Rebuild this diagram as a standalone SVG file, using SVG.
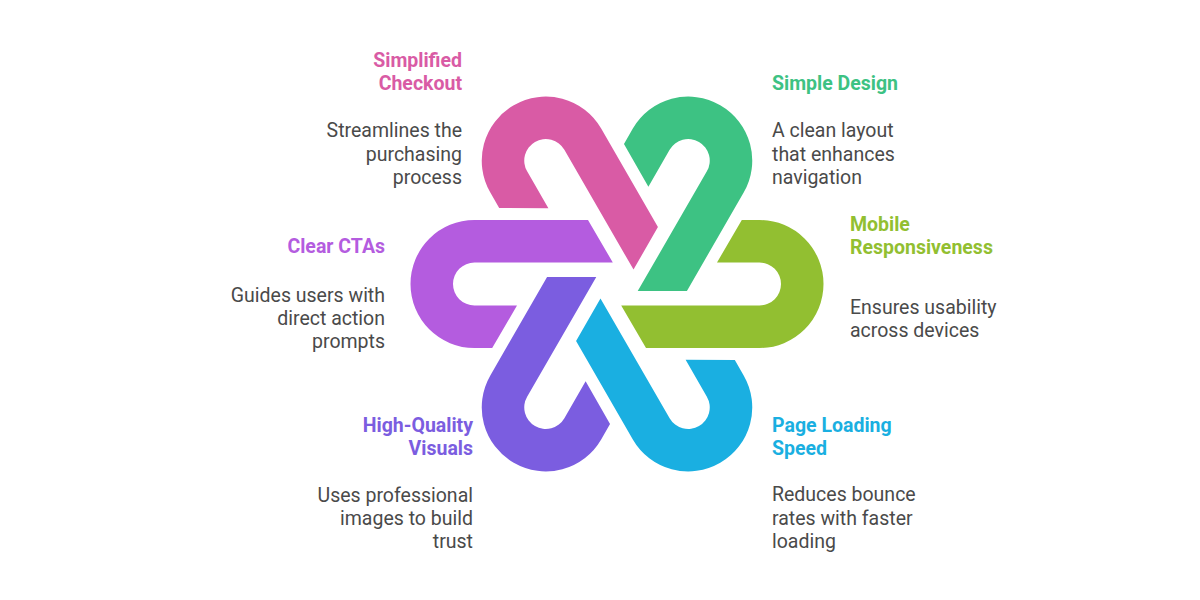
<svg xmlns="http://www.w3.org/2000/svg" width="1200" height="600" viewBox="0 0 1200 600">
  <style>
    .title { font-family: Roboto, "Liberation Sans", sans-serif; font-weight: 700; font-size: 19.5px; }
    .desc { font-family: Roboto, "Liberation Sans", sans-serif; font-size: 19.5px; fill: #4A4A4A; }
    .end { text-anchor: end; }
  </style>
  <defs>
    <path id="hook" d="M -29,-64 L -142.5,-64 A 64 64 0 0 0 -142.5,64 L -124.8,64 L -100,21.5 L -142.5,21.5 A 21.5 21.5 0 0 1 -142.5,-21.5 L -4.2,-21.5 Z"/>
  </defs>
  <rect width="1200" height="600" fill="#ffffff"/>

  <g id="node-clear-ctas">
    <use href="#hook" fill="#B45CDF" transform="translate(617,284) rotate(0)"/>
    <text class="title end" x="385" y="253" fill="#B45CDF">Clear CTAs</text>
    <text class="desc end" x="385" y="301.5">Guides users with</text>
    <text class="desc end" x="385" y="325">direct action</text>
    <text class="desc end" x="385" y="348">prompts</text>
  </g>

  <g id="node-simplified-checkout">
    <use href="#hook" fill="#D95BA5" transform="translate(617,284) rotate(60)"/>
    <text class="title end" x="462" y="66.5" fill="#D95BA5">Simplified</text>
    <text class="title end" x="462" y="90" fill="#D95BA5">Checkout</text>
    <text class="desc end" x="462" y="137">Streamlines the</text>
    <text class="desc end" x="462" y="160.5">purchasing</text>
    <text class="desc end" x="462" y="184">process</text>
  </g>

  <g id="node-simple-design">
    <use href="#hook" fill="#3DC283" transform="translate(617,284) rotate(120)"/>
    <text class="title" x="772" y="90" fill="#3DC283">Simple Design</text>
    <text class="desc" x="772" y="137">A clean layout</text>
    <text class="desc" x="772" y="160.5">that enhances</text>
    <text class="desc" x="772" y="184">navigation</text>
  </g>

  <g id="node-mobile-responsiveness">
    <use href="#hook" fill="#92BF31" transform="translate(617,284) rotate(180)"/>
    <text class="title" x="850" y="230.5" fill="#92BF31">Mobile</text>
    <text class="title" x="850" y="254" fill="#92BF31">Responsiveness</text>
    <text class="desc" x="850" y="313.5">Ensures usability</text>
    <text class="desc" x="850" y="337">across devices</text>
  </g>

  <g id="node-page-loading-speed">
    <use href="#hook" fill="#1AAFE1" transform="translate(617,284) rotate(240)"/>
    <text class="title" x="772" y="431.5" fill="#1AAFE1">Page Loading</text>
    <text class="title" x="772" y="454.5" fill="#1AAFE1">Speed</text>
    <text class="desc" x="772" y="501">Reduces bounce</text>
    <text class="desc" x="772" y="524.5">rates with faster</text>
    <text class="desc" x="772" y="548">loading</text>
  </g>

  <g id="node-high-quality-visuals">
    <use href="#hook" fill="#7B5DE0" transform="translate(617,284) rotate(300)"/>
    <text class="title end" x="473" y="431.5" fill="#7B5DE0">High-Quality</text>
    <text class="title end" x="473" y="454.5" fill="#7B5DE0">Visuals</text>
    <text class="desc end" x="473" y="502">Uses professional</text>
    <text class="desc end" x="473" y="525">images to build</text>
    <text class="desc end" x="473" y="548">trust</text>
  </g>

  <g id="connectors"></g>
</svg>
